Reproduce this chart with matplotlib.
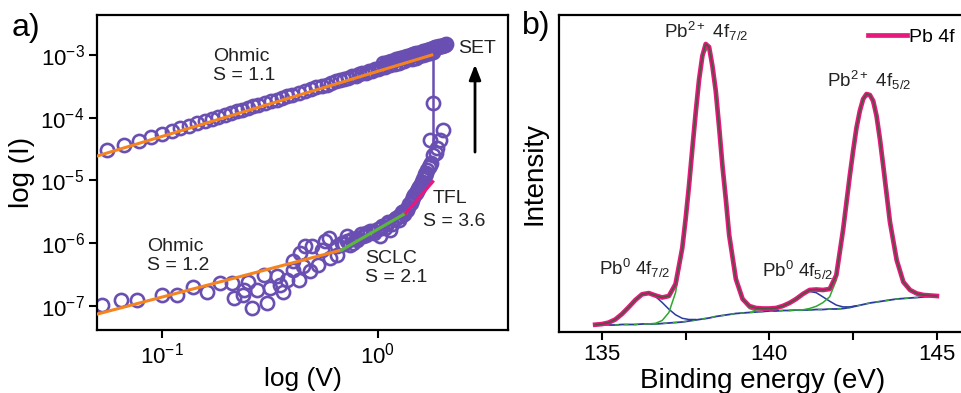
import numpy as np
import matplotlib
matplotlib.use("Agg")
import matplotlib.pyplot as plt
from matplotlib.ticker import FixedLocator, NullLocator, LogFormatterSciNotation

plt.rcParams["font.family"] = ["Liberation Sans", "DejaVu Sans"]
plt.rcParams["mathtext.default"] = "regular"

# ---------------- panel a) I-V sweep, log-log ----------------
# forward sweep, high resistance state (log10 of current in A)
hrs_v = [0.053, 0.065, 0.077, 0.100, 0.117, 0.140, 0.162, 0.186, 0.211, 0.215,
         0.239, 0.240, 0.252, 0.262, 0.276, 0.296, 0.306, 0.318, 0.341, 0.354,
         0.365, 0.379, 0.406, 0.407, 0.430, 0.437, 0.453, 0.461, 0.486, 0.495,
         0.531, 0.551, 0.570, 0.592, 0.601, 0.646, 0.650, 0.700, 0.718, 0.745,
         0.772, 0.800, 0.859, 0.887, 0.955, 1.00, 1.02, 1.05, 1.10, 1.14,
         1.20, 1.25, 1.26, 1.30, 1.33, 1.36, 1.40, 1.46, 1.50, 1.56,
         1.60, 1.65, 1.68, 1.72, 1.77, 1.80, 1.87, 1.89, 1.74, 1.94,
         2.01, 1.80,
         0.68, 0.72, 0.76, 0.80, 0.84, 0.88, 0.92, 0.96, 1.04, 1.08,
         1.12, 1.16, 1.22, 1.28, 1.32, 1.38, 1.42, 1.44, 1.48, 1.52,
         1.54, 1.58, 1.62, 1.66, 1.70, 1.75]
hrs_logi = [-6.98, -6.90, -6.90, -6.82, -6.82, -6.70, -6.78, -6.64, -6.63, -6.87,
            -6.82, -6.74, -6.61, -7.03, -6.74, -6.51, -6.96, -6.72, -6.53, -6.67,
            -6.77, -6.59, -6.29, -6.43, -6.59, -6.15, -6.37, -6.05, -6.45, -6.05,
            -6.35, -6.11, -5.97, -5.92, -6.24, -6.05, -6.19, -6.02, -5.89, -6.03,
            -6.00, -5.92, -5.89, -5.84, -5.81, -5.77, -5.89, -5.72, -5.70, -5.79,
            -5.62, -5.57, -5.63, -5.51, -5.48, -5.47, -5.37, -5.26, -5.20, -5.10,
            -5.02, -4.93, -4.88, -4.78, -4.72, -4.60, -4.56, -4.48, -4.35, -4.35,
            -4.20, -3.77,
            -6.00, -5.96, -5.93, -5.95, -5.86, -5.87, -5.80, -5.83, -5.75, -5.76,
            -5.66, -5.69, -5.60, -5.56, -5.53, -5.42, -5.36, -5.31, -5.23, -5.17,
            -5.13, -5.06, -4.98, -4.90, -4.84, -4.76]

# reverse sweep, low resistance state
lrs_v = [0.056, 0.067, 0.078, 0.089, 0.100, 0.111, 0.122, 0.134, 0.146, 0.158,
         0.170, 0.183, 0.196, 0.209, 0.222, 0.236, 0.250, 0.265, 0.28, 0.30,
         0.32, 0.34, 0.36, 0.38, 0.40, 0.43, 0.46, 0.49, 0.52, 0.55,
         0.58, 0.61, 0.64, 0.67, 0.70, 0.73, 0.76, 0.79, 0.82, 0.85,
         0.88, 0.91, 0.94, 0.97, 1.00, 1.03, 1.06, 1.09, 1.12, 1.15,
         1.18, 1.21, 1.24, 1.27, 1.30, 1.33, 1.36, 1.39, 1.42, 1.45,
         1.48, 1.51, 1.54, 1.57, 1.60, 1.63, 1.66, 1.69, 1.72, 1.75,
         1.78, 1.81, 1.84, 1.87, 1.90, 1.93, 1.96, 1.99, 2.02, 2.05,
         2.08,
         1.08, 1.14, 1.20, 1.26, 1.32, 1.38, 1.44, 1.50, 1.56, 1.62,
         1.68, 1.74, 1.80]
lrs_logi = [-4.52, -4.44, -4.37, -4.31, -4.26, -4.21, -4.17, -4.13, -4.09, -4.05,
            -4.02, -3.99, -3.96, -3.93, -3.90, -3.87, -3.85, -3.82, -3.80, -3.76,
            -3.74, -3.71, -3.68, -3.66, -3.63, -3.60, -3.57, -3.54, -3.51, -3.49,
            -3.47, -3.44, -3.42, -3.40, -3.38, -3.36, -3.34, -3.33, -3.31, -3.29,
            -3.28, -3.26, -3.25, -3.23, -3.22, -3.21, -3.13, -3.12, -3.11, -3.10,
            -3.09, -3.07, -3.06, -3.05, -3.04, -3.03, -3.02, -3.01, -3.00, -2.99,
            -2.98, -2.97, -2.96, -2.96, -2.95, -2.94, -2.93, -2.92, -2.92, -2.91,
            -2.90, -2.89, -2.88, -2.88, -2.87, -2.86, -2.86, -2.85, -2.84, -2.84,
            -2.83,
            -3.19, -3.16, -3.14, -3.12, -3.09, -3.07, -3.06, -3.04, -3.02, -3.00,
            -2.99, -2.97, -2.95]

# SET jump
set_v = [1.80, 1.80]
set_logi = [-4.40, -2.96]

# fitted slopes (end points)
fit_lrs_v, fit_lrs_logi = [0.0501, 1.78], [-4.61, -3.00]
fit_ohm_v, fit_ohm_logi = [0.0501, 0.681], [-7.13, -6.107]
fit_sclc_v, fit_sclc_logi = [0.681, 1.35], [-6.107, -5.52]
fit_tfl_v, fit_tfl_logi = [1.35, 1.80], [-5.52, -5.02]

# ---------------- panel b) Pb 4f XPS ----------------
# measured envelope
env_energy = [134.8, 135.0, 135.2, 135.4, 135.6, 135.8, 136.0, 136.2, 136.4, 136.6,
              136.8, 137.0, 137.2, 137.4, 137.5, 137.6, 137.7, 137.8, 137.9, 138.0,
              138.1, 138.2, 138.3, 138.4, 138.5, 138.6, 138.7, 138.8, 139.0, 139.2,
              139.4, 139.6, 139.8, 140.0, 140.2, 140.4, 140.6, 140.8, 141.0, 141.2,
              141.4, 141.6, 141.8, 142.0, 142.2, 142.3, 142.4, 142.5, 142.6, 142.7,
              142.8, 142.9, 143.0, 143.1, 143.2, 143.3, 143.4, 143.5, 143.6, 143.8,
              144.0, 144.2, 144.4, 144.6, 144.8, 145.0]
pb4f = [7.3, 7.9, 9.4, 12.5, 18.0, 24.8, 32.0, 37.7, 38.9, 36.5,
        34.5, 36.0, 48.0, 84.0, 113.0, 146.0, 183.0, 219.0, 252.0, 276.0,
        288.0, 285.0, 266.0, 241.0, 205.0, 166.0, 133.0, 97.0, 53.0, 33.0,
        26.0, 24.0, 23.5, 23.5, 24.0, 26.0, 29.0, 33.0, 38.0, 42.0,
        42.5, 42.0, 43.0, 57.0, 102.0, 129.0, 156.0, 181.0, 204.0, 221.0,
        233.0, 238.0, 237.0, 231.0, 216.0, 193.0, 166.0, 138.0, 110.0, 72.0,
        50.0, 42.0, 38.5, 37.0, 36.5, 36.0]

# fitted components
energy = [134.8, 135.0, 135.2, 135.4, 135.6, 135.8, 136.0, 136.2, 136.4, 136.6,
          136.8, 137.0, 137.2, 137.4, 137.6, 137.8, 138.0, 138.2, 138.4, 138.6,
          138.8, 139.0, 139.2, 139.4, 139.6, 139.8, 140.0, 140.2, 140.4, 140.6,
          140.8, 141.0, 141.2, 141.4, 141.6, 141.8, 142.0, 142.2, 142.4, 142.6,
          142.8, 143.0, 143.2, 143.4, 143.6, 143.8, 144.0, 144.2, 144.4, 144.6,
          144.8, 145.0]
background = [7, 7, 7, 7, 7.5, 7.5, 7.5, 8, 8, 8,
              8.5, 9, 9.5, 10, 11, 12, 13, 14, 15.5, 16.5,
              17.5, 18.5, 19, 19.5, 20, 20.5, 21, 21, 21.5, 21.5,
              22, 22, 22, 22.5, 22.5, 23, 23, 23.5, 24.5, 26,
              27.5, 29, 30, 31, 32, 33, 33.5, 34, 34.5, 35,
              35.5, 36]
pb0_72 = [7.3, 7.9, 9.4, 12.5, 18.0, 24.8, 32.0, 37.7, 38.8, 35.5,
          29.5, 22.8, 17.2, 13.7, 12.5, 12.5]                      # 134.8-137.8
pb2_72 = [8.1, 8.7, 11.5, 19.5, 39.5, 80, 145, 219, 276, 286,
          241, 166, 97, 53, 32, 23.5, 21, 20.7]                    # 136.4-139.8
pb0_52 = [20.7, 21.6, 22.6, 25.4, 29.3, 34.6, 38.8, 40.5, 39.3, 35.1,
          30.8, 26.9, 25.1, 25.1, 26.2]                            # 139.8-142.6
pb2_52 = [21.7, 22.2, 22.2, 23.5, 25.7, 29.4, 35.2, 52, 100, 156,
          204, 233, 237, 216, 166, 110, 72, 50, 42, 38.5,
          37, 36.5, 36]                                            # 140.6-145.0

purple = "#6a4fb3"
orange = "#f5841f"
green = "#5cb83a"
pink = "#e8197d"

fig = plt.figure(figsize=(9.61, 3.93), dpi=100)
ax1 = fig.add_axes([97 / 961, 63 / 393, 411 / 961, 315 / 393])
ax2 = fig.add_axes([559 / 961, 61 / 393, 407 / 961, 317 / 393])

# --- panel a
hrs_i = 10 ** np.array(hrs_logi)
lrs_i = 10 ** np.array(lrs_logi)
ax1.plot(set_v, 10 ** np.array(set_logi), color=purple, lw=1.8, zorder=2)
ax1.plot(lrs_v, lrs_i, "o", mfc="none", mec=purple, mew=1.9, ms=9.5, zorder=2)
ax1.plot(hrs_v, hrs_i, "o", mfc="none", mec=purple, mew=1.9, ms=9.5, zorder=2)
ax1.plot(fit_lrs_v, 10 ** np.array(fit_lrs_logi), color=orange, lw=2.2, zorder=3)
ax1.plot(fit_ohm_v, 10 ** np.array(fit_ohm_logi), color=orange, lw=2.2, zorder=3)
ax1.plot(fit_sclc_v, 10 ** np.array(fit_sclc_logi), color=green, lw=2.2, zorder=3)
ax1.plot(fit_tfl_v, 10 ** np.array(fit_tfl_logi), color=pink, lw=2.2, zorder=3)

ax1.set_xscale("log")
ax1.set_yscale("log")
ax1.set_xlim(0.0501, 4.015)
ax1.set_ylim(10 ** -7.383, 10 ** -2.362)
ax1.xaxis.set_major_locator(FixedLocator([0.1, 1]))
ax1.yaxis.set_major_locator(FixedLocator([1e-7, 1e-6, 1e-5, 1e-4, 1e-3]))
ax1.xaxis.set_major_formatter(LogFormatterSciNotation())
ax1.yaxis.set_major_formatter(LogFormatterSciNotation())
ax1.xaxis.set_minor_locator(NullLocator())
ax1.yaxis.set_minor_locator(NullLocator())
ax1.set_xlabel("log (V)", fontsize=19, labelpad=-1)
ax1.set_ylabel("log (I)", fontsize=20, labelpad=4)

tkw = dict(fontsize=14, color="#222222")
ax1.text(0.173, 1.3e-3, "Ohmic\nS = 1.1", va="top", ha="left", linespacing=1.15, **tkw)
ax1.text(0.0855, 1.22e-6, "Ohmic\nS = 1.2", va="top", ha="left", linespacing=1.15, **tkw)
ax1.text(0.873, 7.8e-7, "SCLC\nS = 2.1", va="top", ha="left", linespacing=1.15, **tkw)
ax1.text(1.80, 7.1e-6, "TFL", va="top", ha="left", **tkw)
ax1.text(1.62, 3.04e-6, "S = 3.6", va="top", ha="left", **tkw)
ax1.text(2.353, 1.75e-3, "SET", va="top", ha="left", **tkw)
ax1.annotate("", xy=(2.824, 7.8e-4), xytext=(2.824, 2.56e-5),
             arrowprops=dict(arrowstyle="-|>,head_length=0.9,head_width=0.35",
                             lw=2, color="black"))

# --- panel b
ax2.plot(energy, background, color="#2b3a9e", lw=1.3, zorder=2)
ax2.plot(energy, background, color="#3aa83a", lw=1.0, ls=(0, (3, 4)), zorder=2)
ax2.plot(energy[0:16], pb0_72, color="#2b3a9e", lw=1.1, zorder=2)
ax2.plot(energy[25:40], pb0_52, color="#2b3a9e", lw=1.1, zorder=2)
ax2.plot(energy[8:26], pb2_72, color="#2ea82e", lw=1.1, zorder=2)
ax2.plot(energy[29:52], pb2_52, color="#2ea82e", lw=1.1, zorder=2)
ax2.plot(env_energy, pb4f, color=pink, lw=3.4, zorder=3, label="Pb 4f")
ax2.plot(env_energy, pb4f, color="#4b5640", lw=1.2, zorder=4)

ax2.set_xlim(133.72, 145.87)
ax2.set_ylim(0, 317)
ax2.set_yticks([])
ax2.xaxis.set_major_locator(FixedLocator([135, 140, 145]))
ax2.xaxis.set_minor_locator(FixedLocator([137.5, 142.5]))
ax2.set_xlabel("Binding energy (eV)", fontsize=20, labelpad=2)
ax2.set_ylabel("Intensity", fontsize=20, labelpad=8)

pkw = dict(fontsize=13.5, color="#222222", ha="center", va="baseline")
ax2.text(138.1, 294, "Pb$^{2+}$ 4f$_{7/2}$", **pkw)
ax2.text(142.97, 245, "Pb$^{2+}$ 4f$_{5/2}$", **pkw)
ax2.text(135.98, 57, "Pb$^{0}$ 4f$_{7/2}$", **pkw)
ax2.text(140.84, 55, "Pb$^{0}$ 4f$_{5/2}$", **pkw)

ax2.legend(loc="center left", bbox_to_anchor=(868 / 961, 1 - 37 / 393),
           bbox_transform=fig.transFigure, frameon=False, fontsize=14,
           handlelength=2.0, handletextpad=0.1, borderpad=0, borderaxespad=0)

for ax in (ax1, ax2):
    for sp in ax.spines.values():
        sp.set_linewidth(1.6)
    ax.tick_params(which="both", direction="out", length=6, width=1.5,
                   labelsize=16, pad=3)

fig.text(12 / 961, 1 - 13 / 393, "a)", fontsize=23, va="top", ha="left")
fig.text(522 / 961, 1 - 11 / 393, "b)", fontsize=23, va="top", ha="left")

fig.savefig("out.png", dpi=100)
